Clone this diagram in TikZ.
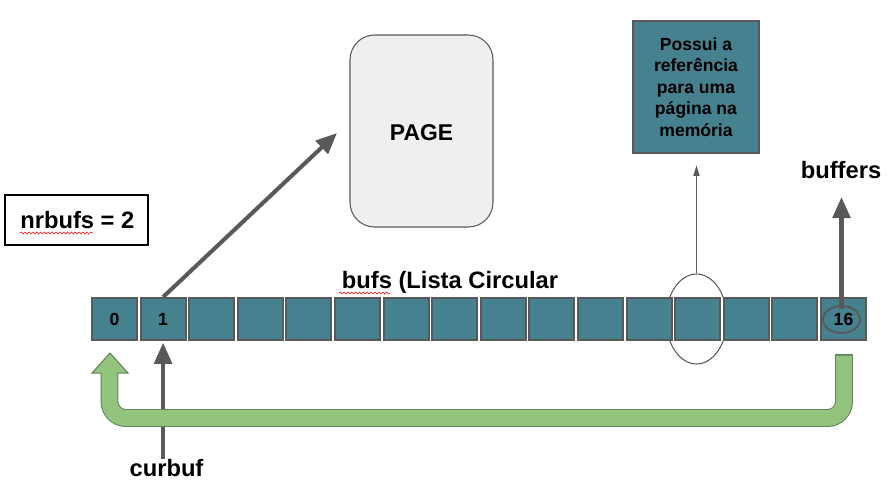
\documentclass[tikz,border=0pt]{standalone}
\usepackage{fontspec}
\setmainfont{Liberation Sans}
\usetikzlibrary{arrows.meta,shapes.geometric,decorations.pathmorphing}
\definecolor{celula}{HTML}{45818E}
\definecolor{borda}{HTML}{595959}
\definecolor{verde}{HTML}{93C47D}
\definecolor{verdeborda}{HTML}{62805A}
\definecolor{pagina}{HTML}{EFEFEF}
\tikzset{
  celula/.style={draw=borda, fill=celula, line width=1.1pt, minimum width=0.9cm,
    minimum height=0.84cm, inner sep=0pt},
  digito/.style={font=\fontsize{10}{12}\selectfont\bfseries, inner sep=0pt},
  rotulo/.style={font=\fontsize{13.5}{16}\selectfont\bfseries, inner sep=0pt},
  seta/.style={borda, line width=2.3pt, -{Triangle[length=12pt,width=10pt]}},
  sublinhado/.style={red, line width=0.3pt, decorate,
    decoration={snake, amplitude=0.6pt, segment length=2.2pt}},
}
\begin{document}
\begin{tikzpicture}[x=0.02cm,y=-0.02cm]
  \useasboundingbox (0,0) rectangle (894,488);
  % Elipse (atras das celulas)
  \node[draw=borda, line width=0.6pt, ellipse, minimum width=1.22cm,
    minimum height=1.8cm] (el) at (696.5,319) {};
  % Celulas da lista circular
  \foreach \i in {0,...,15}
    \node[celula] (c\i) at (114.5+48.6*\i,319) {};
  \node[digito] (n0) at (c0) {0};
  \node[digito] (n1) at (c1) {1};
  \node[digito] (n16) at (c15) {16};
  \node[draw=borda, line width=1.1pt, ellipse, minimum width=0.74cm,
    minimum height=0.54cm, inner sep=0pt] (e16) at (841.5,319.5) {};
  % Textos
  \node[draw, line width=1.1pt, minimum width=2.86cm, minimum height=1cm] (nrbox) at (76.5,220) {};
  \node[rotulo, anchor=base west] (nr) at (20,228) {nrbufs = 2};
  \node[rotulo, anchor=base] (bufs) at (450,288) {bufs (Lista Circular};
  \node[rotulo, anchor=base] (buf) at (841,178) {buffers};
  \node[rotulo, anchor=base] (cur) at (166.5,476.5) {curbuf};
  \draw[sublinhado] (20,233) -- (93,233);
  \draw[sublinhado] (339,293) -- (390,293);
  % Pagina
  \node[draw=borda, line width=0.6pt, fill=pagina, rounded corners=14pt,
    minimum width=2.86cm, minimum height=3.84cm] (page) at (421.5,131) {};
  \node[rotulo, font=\fontsize{13}{15}\selectfont\bfseries, anchor=base] (pt) at (421.5,140) {PAGE};
  % Caixa de referencia
  \node[draw=borda, line width=1.1pt, fill=celula, minimum width=2.52cm,
    minimum height=2.64cm, align=center, inner sep=0pt,
    font=\fontsize{10}{12.3}\selectfont\bfseries] (caixa) at (696,87)
    {Possui a\\referência\\para uma\\página na\\memória};
  % Setas
  \coordinate (pg) at (337,133);
  \draw[seta] (c1.north) -- (pg);
  \draw[seta, shorten >=1pt] (c1.south |- cur.north) -- (c1.south);
  \draw[seta, shorten >=10.5pt] ([yshift=-2pt]e16.north) -- (e16.north |- buf.south);
  \draw[borda, line width=0.6pt, -{Triangle[length=6pt,width=3.5pt]}, shorten >=6.5pt]
    (el.north) -- (el.north |- caixa.south);
  % Seta verde (volta ao inicio)
  \coordinate (vi) at (844,354);
  \coordinate (vf) at (109.5,373);
  \draw[verdeborda, line width=10.2pt, rounded corners=9.4pt]
    (vi) -- (844,418) -- (109.5,418) -- (vf);
  \filldraw[fill=verde, draw=verdeborda, line width=0.57pt]
    (92,373) -- (110,353) -- (128,373) -- cycle;
  \draw[verde, line width=9.07pt, rounded corners=9.4pt]
    (844,355.5) -- (844,418) -- (109.5,418) -- (109.5,372);
\end{tikzpicture}
\end{document}
